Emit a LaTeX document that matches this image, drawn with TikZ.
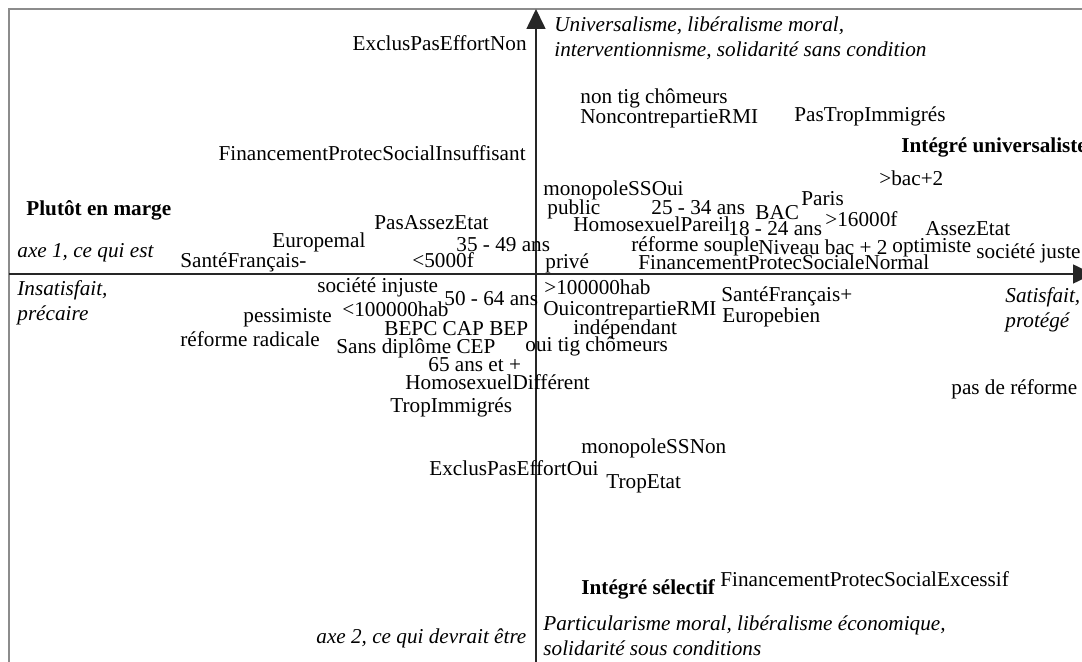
\documentclass[tikz,border=0pt]{standalone}
\usepackage{fontspec}
\setmainfont{Liberation Serif}
\usetikzlibrary{arrows.meta}

\begin{document}
\begin{tikzpicture}[x=0.5pt, y=-0.5pt,
  every node/.style={inner sep=0pt, anchor=base west, font=\fontsize{10.6}{12.5}\selectfont},
  pole/.style={font=\fontsize{10.6}{12.5}\selectfont\bfseries},
  axelbl/.style={font=\fontsize{10.6}{12.5}\selectfont\itshape},
  note/.style={anchor=west, align=left, font=\fontsize{10.6}{12.5}\selectfont\itshape},
  axe/.style={line width=0.8pt, draw=black!85, -{Triangle[length=10pt, width=9.5pt]}},
  cadre/.style={line width=1.35pt, draw=black!45}]
\clip (0,0) rectangle (1082,662);
\fill[white] (0,0) rectangle (1082,662);
\draw[cadre] (1090,9) -- (9,9) -- (9,670);
\coordinate (xw) at (9,274);
\coordinate (xe) at (1093,274);
\coordinate (ys) at (536,670);
\coordinate (yn) at (536,9);
\draw[axe] (xw) -- (xe);
\draw[axe] (ys) -- (yn);
\node[anchor=base east] (exclnon) at (527,51) {ExclusPasEffortNon};
\node[note] (univ) at (554,38) {Universalisme, libéralisme moral,\\interventionnisme, solidarité sans condition};
\node (nontig) at (580,104) {non tig chômeurs};
\node (noncontre) at (580,124) {NoncontrepartieRMI};
\node (pastrop) at (794,122) {PasTropImmigrés};
\node[anchor=base east] (fininsuf) at (526,161) {FinancementProtecSocialInsuffisant};
\node[pole] (intuniv) at (901,153) {Intégré universaliste};
\node (bacplus) at (879,186) {>bac+2};
\node (monooui) at (543,196) {monopoleSSOui};
\node[pole] (marge) at (26,216) {Plutôt en marge};
\node (public) at (547,215) {public};
\node (age2534) at (651,215) {25 - 34 ans};
\node (bac) at (755,220) {BAC};
\node (paris) at (801,206) {Paris};
\node (pasassez) at (374,230) {PasAssezEtat};
\node (homopareil) at (573,232) {HomosexuelPareil};
\node (age1824) at (728,236) {18 - 24 ans};
\node (rev16) at (825,227) {>16000f};
\node (assez) at (925,236) {AssezEtat};
\node (euromal) at (272,248) {Europemal};
\node (age3549) at (456,252) {35 - 49 ans};
\node[axelbl] (axe1) at (17,258) {axe 1, ce qui est};
\node (souple) at (631,252) {réforme souple};
\node (niveau) at (758,255) {Niveau bac + 2};
\node (optim) at (892,253) {optimiste};
\node (juste) at (976,259) {société juste};
\node (santemoins) at (180,268) {SantéFrançais-};
\node (rev5) at (412,268) {<5000f};
\node (prive) at (545,269) {privé};
\node (finnormal) at (638,270) {FinancementProtecSocialeNormal};
\node[note] (insat) at (17,303) {Insatisfait,\\précaire};
\node (injuste) at (317,293) {société injuste};
\node (hab100p) at (544,295) {>100000hab};
\node (santeplus) at (721,302) {SantéFrançais+};
\node (europebien) at (722,323) {Europebien};
\node[note] (satisf) at (1005,310) {Satisfait,\\protégé};
\node (hab100m) at (342,317) {<100000hab};
\node (age5064) at (444,306) {50 - 64 ans};
\node (pessim) at (243,323) {pessimiste};
\node (ouicontre) at (543,316) {OuicontrepartieRMI};
\node (bepc) at (384,336) {BEPC CAP BEP};
\node (indep) at (573,335) {indépendant};
\node (radicale) at (180,347) {réforme radicale};
\node (sansdipl) at (336,354) {Sans diplôme CEP};
\node (ouitig) at (525,352) {oui tig chômeurs};
\node (age65) at (428,372) {65 ans et +};
\node (homodiff) at (405,390) {HomosexuelDifférent};
\node (pasref) at (951,395) {pas de réforme};
\node (tropimm) at (390,413) {TropImmigrés};
\node (mononon) at (581,454) {monopoleSSNon};
\node (excloui) at (429,476) {ExclusPasEffortOui};
\node (tropetat) at (606,489) {TropEtat};
\node[pole] (intsel) at (581,595) {Intégré sélectif};
\node (finexces) at (720,587) {FinancementProtecSocialExcessif};
\node[axelbl] (axe2) at (316,643) {axe 2, ce qui devrait être};
\node[note] (partic) at (543,636) {Particularisme moral, libéralisme économique,\\solidarité sous conditions};
\end{tikzpicture}
\end{document}
